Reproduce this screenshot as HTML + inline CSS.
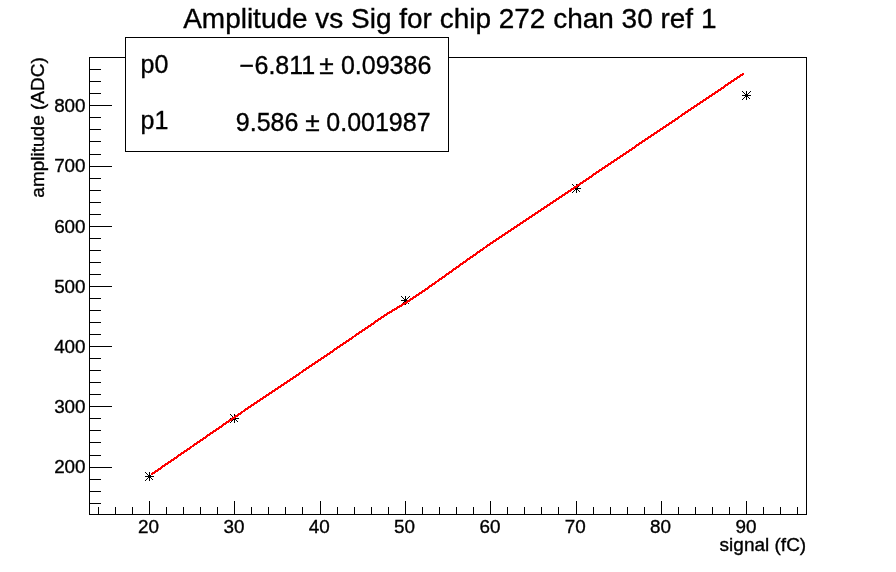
<!DOCTYPE html>
<html><head><meta charset="utf-8"><title>Amplitude vs Sig</title>
<style>html,body{margin:0;padding:0;background:#fff;overflow:hidden}</style></head>
<body>
<svg width="896" height="572" viewBox="0 0 896 572" style="display:block">
<rect x="0" y="0" width="896" height="572" fill="#fff"/>
<g fill="#000" shape-rendering="crispEdges">
<rect x="89" y="57" width="718" height="1"/>
<rect x="89" y="514" width="718" height="1"/>
<rect x="89" y="57" width="1" height="458"/>
<rect x="806" y="57" width="1" height="458"/>
<rect x="98" y="507" width="1" height="8"/>
<rect x="115" y="507" width="1" height="8"/>
<rect x="132" y="507" width="1" height="8"/>
<rect x="149" y="501" width="1" height="14"/>
<rect x="166" y="507" width="1" height="8"/>
<rect x="183" y="507" width="1" height="8"/>
<rect x="200" y="507" width="1" height="8"/>
<rect x="217" y="507" width="1" height="8"/>
<rect x="234" y="501" width="1" height="14"/>
<rect x="251" y="507" width="1" height="8"/>
<rect x="268" y="507" width="1" height="8"/>
<rect x="285" y="507" width="1" height="8"/>
<rect x="302" y="507" width="1" height="8"/>
<rect x="320" y="501" width="1" height="14"/>
<rect x="337" y="507" width="1" height="8"/>
<rect x="354" y="507" width="1" height="8"/>
<rect x="371" y="507" width="1" height="8"/>
<rect x="388" y="507" width="1" height="8"/>
<rect x="405" y="501" width="1" height="14"/>
<rect x="422" y="507" width="1" height="8"/>
<rect x="439" y="507" width="1" height="8"/>
<rect x="456" y="507" width="1" height="8"/>
<rect x="473" y="507" width="1" height="8"/>
<rect x="490" y="501" width="1" height="14"/>
<rect x="507" y="507" width="1" height="8"/>
<rect x="524" y="507" width="1" height="8"/>
<rect x="541" y="507" width="1" height="8"/>
<rect x="558" y="507" width="1" height="8"/>
<rect x="576" y="501" width="1" height="14"/>
<rect x="593" y="507" width="1" height="8"/>
<rect x="610" y="507" width="1" height="8"/>
<rect x="627" y="507" width="1" height="8"/>
<rect x="644" y="507" width="1" height="8"/>
<rect x="661" y="501" width="1" height="14"/>
<rect x="678" y="507" width="1" height="8"/>
<rect x="695" y="507" width="1" height="8"/>
<rect x="712" y="507" width="1" height="8"/>
<rect x="729" y="507" width="1" height="8"/>
<rect x="746" y="501" width="1" height="14"/>
<rect x="763" y="507" width="1" height="8"/>
<rect x="780" y="507" width="1" height="8"/>
<rect x="797" y="507" width="1" height="8"/>
<rect x="89" y="503" width="12" height="1"/>
<rect x="89" y="491" width="12" height="1"/>
<rect x="89" y="479" width="12" height="1"/>
<rect x="89" y="467" width="23" height="1"/>
<rect x="89" y="455" width="12" height="1"/>
<rect x="89" y="442" width="12" height="1"/>
<rect x="89" y="430" width="12" height="1"/>
<rect x="89" y="418" width="12" height="1"/>
<rect x="89" y="406" width="23" height="1"/>
<rect x="89" y="394" width="12" height="1"/>
<rect x="89" y="382" width="12" height="1"/>
<rect x="89" y="370" width="12" height="1"/>
<rect x="89" y="358" width="12" height="1"/>
<rect x="89" y="346" width="23" height="1"/>
<rect x="89" y="334" width="12" height="1"/>
<rect x="89" y="322" width="12" height="1"/>
<rect x="89" y="310" width="12" height="1"/>
<rect x="89" y="298" width="12" height="1"/>
<rect x="89" y="286" width="23" height="1"/>
<rect x="89" y="274" width="12" height="1"/>
<rect x="89" y="262" width="12" height="1"/>
<rect x="89" y="250" width="12" height="1"/>
<rect x="89" y="238" width="12" height="1"/>
<rect x="89" y="226" width="23" height="1"/>
<rect x="89" y="214" width="12" height="1"/>
<rect x="89" y="202" width="12" height="1"/>
<rect x="89" y="190" width="12" height="1"/>
<rect x="89" y="178" width="12" height="1"/>
<rect x="89" y="166" width="23" height="1"/>
<rect x="89" y="154" width="12" height="1"/>
<rect x="89" y="141" width="12" height="1"/>
<rect x="89" y="129" width="12" height="1"/>
<rect x="89" y="117" width="12" height="1"/>
<rect x="89" y="105" width="23" height="1"/>
<rect x="89" y="93" width="12" height="1"/>
<rect x="89" y="81" width="12" height="1"/>
<rect x="89" y="69" width="12" height="1"/>
</g>
<g font-family="'Liberation Sans', Arial, sans-serif" fill="#000" stroke="#000" stroke-width="0.35">
<text x="148.6" y="533.0" font-size="18.85" text-anchor="middle">20</text>
<text x="234.0" y="533.0" font-size="18.85" text-anchor="middle">30</text>
<text x="319.3" y="533.0" font-size="18.85" text-anchor="middle">40</text>
<text x="404.6" y="533.0" font-size="18.85" text-anchor="middle">50</text>
<text x="490.0" y="533.0" font-size="18.85" text-anchor="middle">60</text>
<text x="575.3" y="533.0" font-size="18.85" text-anchor="middle">70</text>
<text x="660.6" y="533.0" font-size="18.85" text-anchor="middle">80</text>
<text x="746.0" y="533.0" font-size="18.85" text-anchor="middle">90</text>
<text x="85.6" y="473.4" font-size="18.85" text-anchor="end">200</text>
<text x="85.6" y="413.2" font-size="18.85" text-anchor="end">300</text>
<text x="85.6" y="353.0" font-size="18.85" text-anchor="end">400</text>
<text x="85.6" y="292.8" font-size="18.85" text-anchor="end">500</text>
<text x="85.6" y="232.6" font-size="18.85" text-anchor="end">600</text>
<text x="85.6" y="172.4" font-size="18.85" text-anchor="end">700</text>
<text x="85.6" y="112.2" font-size="18.85" text-anchor="end">800</text>
<text x="806.2" y="551.3" font-size="19" text-anchor="end">signal (fC)</text>
<text transform="translate(43.7,57.2) rotate(-90)" font-size="19" text-anchor="end">amplitude (ADC)</text>
<text x="183.2" y="27.5" font-size="27.97">Amplitude vs Sig for chip 272 chan 30 ref 1</text>
</g>
<path d="M145.0 476.5h9M149.5 472.0v9M145.0 472.0l8.5 8.5M145.0 481.0l8.5 -8.5M230.0 418.5h9M234.5 414.0v9M230.0 414.0l8.5 8.5M230.0 423.0l8.5 -8.5M401.0 300.5h9M405.5 296.0v9M401.0 296.0l8.5 8.5M401.0 305.0l8.5 -8.5M572.0 188.5h9M576.5 184.0v9M572.0 184.0l8.5 8.5M572.0 193.0l8.5 -8.5M742.0 95.5h9M746.5 91.0v9M742.0 91.0l8.5 8.5M742.0 100.0l8.5 -8.5" stroke="#000" stroke-width="1" fill="none" shape-rendering="crispEdges"/>
<rect x="148" y="475" width="3" height="3" fill="#000" shape-rendering="crispEdges"/>
<rect x="233" y="417" width="3" height="3" fill="#000" shape-rendering="crispEdges"/>
<rect x="404" y="299" width="3" height="3" fill="#000" shape-rendering="crispEdges"/>
<rect x="575" y="187" width="3" height="3" fill="#000" shape-rendering="crispEdges"/>
<rect x="745" y="94" width="3" height="3" fill="#000" shape-rendering="crispEdges"/>
<polyline points="151.4,474.5 234.4,417.3 320.5,359.4 385.5,315.0 405.5,303.0 425.5,289.7 483.5,248.5 576.5,186.3 743.8,73.5" fill="none" stroke="#f00" stroke-width="2.2" shape-rendering="crispEdges"/>
<g fill="#000" shape-rendering="crispEdges">
<rect x="125" y="37" width="324" height="115" fill="#000"/>
<rect x="126" y="38" width="322" height="113" fill="#fff"/>
</g>
<g font-family="'Liberation Sans', Arial, sans-serif" fill="#000" font-size="25" stroke="#000" stroke-width="0.35">
<text x="140.5" y="72.5">p0</text>
<text x="140.5" y="128.8">p1</text>
<text x="239.6" y="74.2" textLength="14.6" lengthAdjust="spacingAndGlyphs">−</text>
<text x="254.5" y="74.2">6.811</text>
<text x="319.3" y="74.4" font-size="26.4">±</text>
<text x="431.3" y="74.2" text-anchor="end">0.09386</text>
<text x="235.8" y="130.8">9.586</text>
<text x="305.3" y="131" font-size="26.4">±</text>
<text x="430.6" y="130.8" text-anchor="end">0.001987</text>
</g>
</svg>
</body></html>
